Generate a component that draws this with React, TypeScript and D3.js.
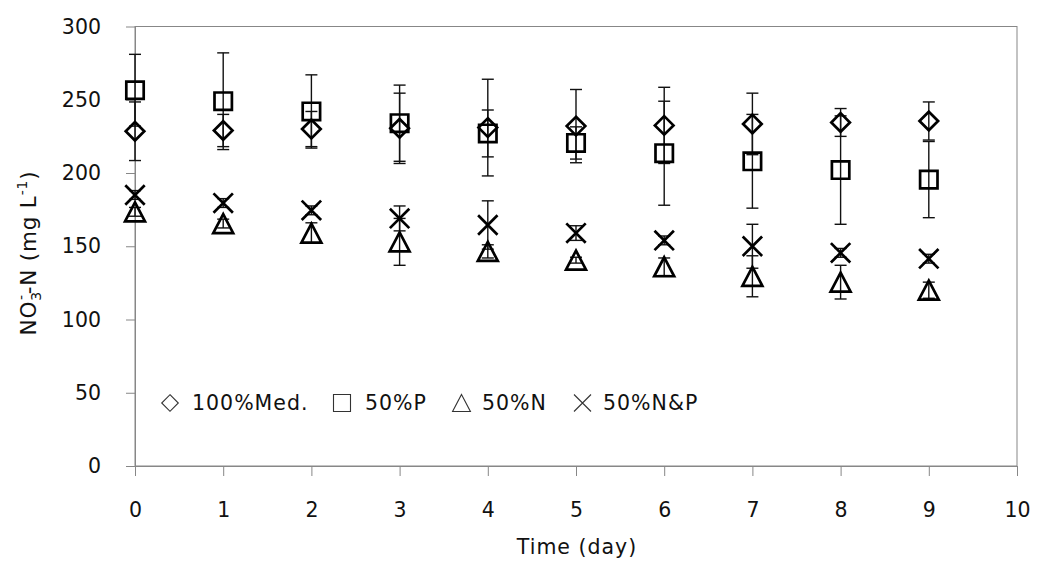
import React, { useEffect, useRef } from 'react';
import * as d3 from 'd3';

const days = [0, 1, 2, 3, 4, 5, 6, 7, 8, 9];

// 100%Med. (diamond)
const medMean = [228.5, 229, 230, 230.5, 231, 232, 232.5, 233.5, 234.5, 235.5];
const medErr = [20, 11, 12, 24, 33, 25, 26, 21, 9.5, 13];
// 50%P (square)
const pMean = [256.5, 249, 242, 234, 227, 220.5, 213.5, 208, 202, 195.5];
const pErr = [24.5, 33, 25, 26, 16, 11, 35.5, 32, 37, 26];
// 50%N (triangle)
const nMean = [173.5, 165.5, 159, 153, 146.5, 140.5, 136, 129.5, 125.5, 120];
const nErr = [3, 3, 7, 16, 4.5, 2, 6, 14, 11.5, 5.5];
// 50%N&P (cross)
const npMean = [185, 179.5, 174.5, 169, 164.5, 159, 154, 150, 145.5, 141.5];
const npErr = [3, 3, 3, 8.5, 16.5, 5, 3, 15, 3, 3];

const xTicks = [0, 1, 2, 3, 4, 5, 6, 7, 8, 9, 10];
const yTicks = [0, 50, 100, 150, 200, 250, 300];
const legendLabels = ['100%Med.', '50%P', '50%N', '50%N&P'];

type Shape = 'diamond' | 'square' | 'triangle' | 'cross';

function shapePath(shape: Shape, s: number) {
  // s = half size
  if (shape === 'diamond') return `M0,${-s}L${s},0L0,${s}L${-s},0Z`;
  if (shape === 'square') return `M${-s},${-s}H${s}V${s}H${-s}Z`;
  if (shape === 'triangle') return `M0,${-s}L${s * 1.05},${s}L${-s * 1.05},${s}Z`;
  return `M${-s},${-s}L${s},${s}M${s},${-s}L${-s},${s}`;
}

const FONT = '"DejaVu Sans", sans-serif';

export default function App() {
  const ref = useRef<SVGSVGElement>(null);

  useEffect(() => {
    if (!ref.current) return;
    const svg = d3.select(ref.current);
    svg.selectAll('*').remove();

    const x = d3.scaleLinear().domain([0, 10]).range([135, 1017]);
    const y = d3.scaleLinear().domain([0, 300]).range([466, 26.5]);

    // plot frame
    svg.append('rect')
      .attr('x', x(0)).attr('y', y(300))
      .attr('width', x(10) - x(0)).attr('height', y(0) - y(300))
      .attr('fill', 'none').attr('stroke', '#878787').attr('stroke-width', 1);

    // axes
    const yAxis = svg.append('g')
      .attr('transform', `translate(${x(0)},0)`)
      .call(d3.axisLeft(y).tickValues(yTicks).tickSize(9).tickSizeOuter(0).tickPadding(25));
    const xAxis = svg.append('g')
      .attr('transform', `translate(0,${y(0)})`)
      .call(d3.axisBottom(x).tickValues(xTicks).tickSize(10).tickSizeOuter(0).tickPadding(26));
    [yAxis, xAxis].forEach(g => {
      g.select('.domain').attr('stroke', '#878787');
      g.selectAll('.tick line').attr('stroke', '#878787');
      g.selectAll('.tick text')
        .attr('fill', '#111')
        .style('font-family', FONT)
        .style('font-size', '20.5px');
    });

    const series = [
      { mean: medMean, err: medErr, shape: 'diamond' as Shape, size: 9.3 },
      { mean: pMean, err: pErr, shape: 'square' as Shape, size: 8.7 },
      { mean: nMean, err: nErr, shape: 'triangle' as Shape, size: 9.5 },
      { mean: npMean, err: npErr, shape: 'cross' as Shape, size: 9.7 },
    ];

    // error bars
    series.forEach(s => {
      const g = svg.append('g').attr('stroke', '#111').attr('stroke-width', 1.4).attr('fill', 'none');
      days.forEach((d, i) => {
        const cx = x(d);
        const top = y(s.mean[i] + s.err[i]);
        const bot = y(s.mean[i] - s.err[i]);
        g.append('line').attr('x1', cx).attr('x2', cx).attr('y1', top).attr('y2', bot);
        g.append('line').attr('x1', cx - 6).attr('x2', cx + 6).attr('y1', top).attr('y2', top);
        g.append('line').attr('x1', cx - 6).attr('x2', cx + 6).attr('y1', bot).attr('y2', bot);
      });
    });

    // markers
    series.forEach(s => {
      svg.append('g')
        .selectAll('path')
        .data(days)
        .enter().append('path')
        .attr('transform', (d, i) => `translate(${x(d)},${y(s.mean[i])})`)
        .attr('d', shapePath(s.shape, s.size))
        .attr('fill', 'none')
        .attr('stroke', '#000')
        .attr('stroke-width', 2.7);
    });

    // legend
    const legendY = 403;
    const legendMarkX = [170, 342, 461.5, 582.5];
    const legendTextX = [192, 365, 482, 603];
    series.forEach((s, i) => {
      svg.append('path')
        .attr('transform', `translate(${legendMarkX[i]},${legendY})`)
        .attr('d', shapePath(s.shape, s.shape === 'diamond' ? 8.3 : 8.5))
        .attr('fill', 'none')
        .attr('stroke', '#333')
        .attr('stroke-width', 1.1);
      svg.append('text')
        .attr('x', legendTextX[i])
        .attr('y', legendY)
        .attr('dy', '0.36em')
        .style('font-family', FONT)
        .style('font-size', '20.5px')
        .style('letter-spacing', '1px')
        .attr('fill', '#111')
        .text(legendLabels[i]);
    });

    // x title
    svg.append('text')
      .attr('x', 577).attr('y', 554)
      .attr('text-anchor', 'middle')
      .style('font-family', FONT).style('font-size', '20.5px')
      .style('letter-spacing', '1px')
      .attr('fill', '#111')
      .text('Time (day)');

    // y title
    const yt = svg.append('text')
      .attr('transform', 'translate(36,253) rotate(-90)')
      .attr('text-anchor', 'middle')
      .style('font-family', FONT).style('font-size', '21.5px')
      .style('letter-spacing', '0.8px')
      .attr('fill', '#111');
    yt.append('tspan').text('NO');
    yt.append('tspan').attr('dy', 5).style('font-size', '14px').text('3');
    yt.append('tspan').attr('dx', -9).attr('dy', -15).style('font-size', '14px').text('-');
    yt.append('tspan').attr('dy', 10).text('-N (mg L');
    yt.append('tspan').attr('dy', -9).style('font-size', '14px').text('-1');
    yt.append('tspan').attr('dy', 9).text(')');
  }, []);

  return (
    <svg
      ref={ref}
      width={1038}
      height={563}
      style={{ position: 'absolute', left: 0, top: 0, background: '#fff' }}
    />
  );
}
